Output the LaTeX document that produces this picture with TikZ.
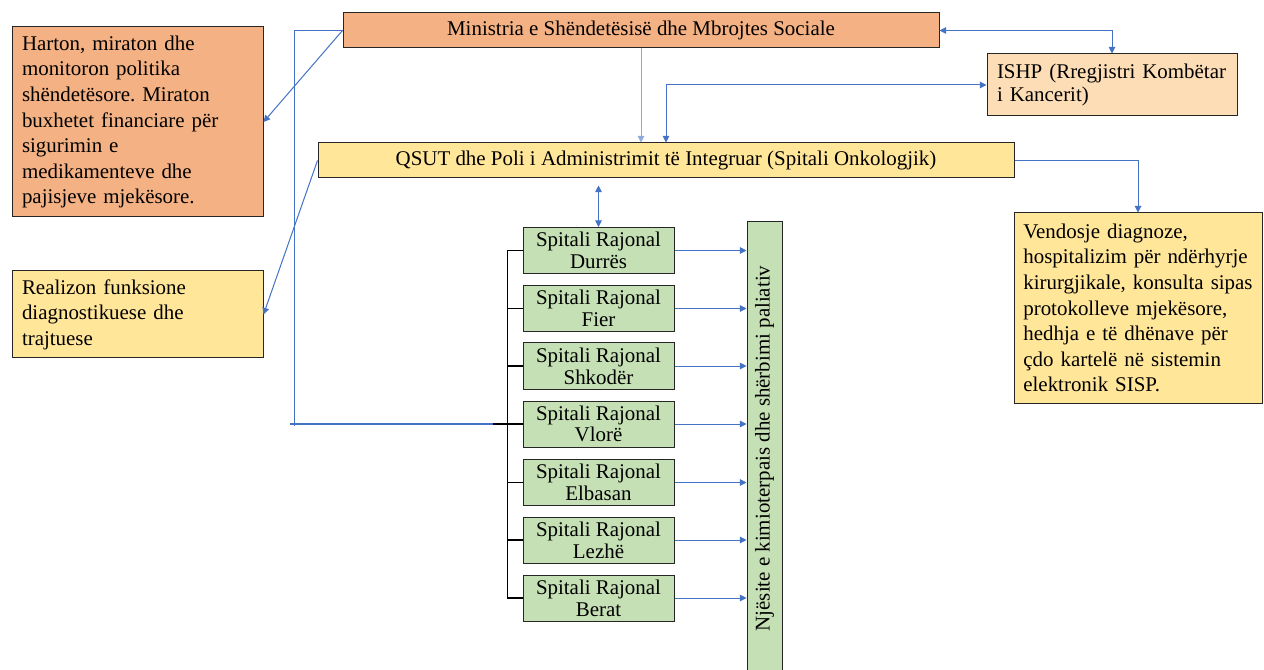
\documentclass[tikz,border=0pt]{standalone}
\usepackage{fontspec}
\setmainfont{Liberation Serif}
\frenchspacing
\usetikzlibrary{arrows.meta}
\definecolor{salmon}{HTML}{F4B183}
\definecolor{peach}{HTML}{FCDDB6}
\definecolor{yell}{HTML}{FFE699}
\definecolor{grn}{HTML}{C5E0B4}
\definecolor{lineblue}{HTML}{4472C4}
\definecolor{lightblue}{HTML}{8FAADC}
\tikzset{
  box/.style={draw=black!85, line width=0.75pt, inner sep=0pt, font=\fontsize{15.7}{19.2}\selectfont},
  lbox/.style={box, align=left, inner xsep=7.5pt},
  hbox/.style={box, fill=grn, align=center, minimum width=113.25pt, minimum height=34.5pt, font=\fontsize{15.7}{16.3}\selectfont},
  tip/.tip={Triangle[length=5pt,width=5pt]},
  conn/.style={draw=lineblue, line width=0.75pt, -tip},
  conn2/.style={draw=lineblue, line width=0.75pt, tip-tip},
  plain/.style={draw=lineblue, line width=0.75pt},
  thickline/.style={draw=lineblue, line width=1.6pt},
  bk/.style={draw=black, line width=1pt},
}
\begin{document}
\begin{tikzpicture}[x=0.75pt,y=-0.75pt]
\useasboundingbox (0,0) rectangle (1264,670);
\clip (0,0) rectangle (1264,670);

\node[box, fill=salmon, minimum width=447pt, minimum height=26.25pt] (min) at (641,30.5)
  {Ministria e Shëndetësisë dhe Mbrojtes Sociale};
\node[lbox, fill=salmon, minimum height=142.5pt, text width=173.25pt] (hart) at (137.5,122)
  {Harton, miraton dhe\\ monitoron politika\\ shëndetësore. Miraton\\ buxhetet financiare për\\ sigurimin e\\ medikamenteve dhe\\ pajisjeve mjekësore.};
\node[lbox, fill=peach, minimum height=46.5pt, text width=172.5pt, font=\fontsize{15.7}{17.5}\selectfont] (ishp) at (1112,85)
  {ISHP (Rregjistri Kombëtar\\ i Kancerit)};
\node[box, fill=yell, minimum width=522pt, minimum height=26.25pt] (qsut) at (666,160.5)
  {QSUT dhe Poli i Administrimit të Integruar (Spitali Onkologjik)};
\node[lbox, fill=yell, minimum height=65.25pt, text width=173.25pt] (real) at (137.5,314.5)
  {Realizon funksione\\ diagnostikuese dhe\\ trajtuese};
\node[lbox, fill=yell, minimum height=142.5pt, text width=172pt, inner xsep=7pt] (vend) at (1138,308)
  {Vendosje diagnoze,\\ hospitalizim për ndërhyrje\\ kirurgjikale, konsulta sipas\\ protokolleve mjekësore,\\ hedhja e të dhënave për\\ çdo kartelë në sistemin\\ elektronik SISP.};

\node[hbox] (dur) at (598.5,250.5) {Spitali Rajonal\\ Durrës};
\node[hbox] (fie) at (598.5,308.5) {Spitali Rajonal\\ Fier};
\node[hbox] (shk) at (598.5,366) {Spitali Rajonal\\ Shkodër};
\node[hbox] (vlo) at (598.5,424) {Spitali Rajonal\\ Vlorë};
\node[hbox] (elb) at (598.5,482.5) {Spitali Rajonal\\ Elbasan};
\node[hbox] (lez) at (598.5,540) {Spitali Rajonal\\ Lezhë};
\node[hbox] (ber) at (598.5,598) {Spitali Rajonal\\ Berat};

\node[box, fill=grn, minimum width=26.25pt, minimum height=341pt] (bar) at (764.5,448.5)
  {\rotatebox{90}{Njësite e kimioterpais dhe shërbimi paliativ}};

% connectors
\draw[conn2] (min.east) -| (ishp.north);
\draw[conn, draw=lightblue] (min.south) -- (min.south |- qsut.north);
\draw[conn2] (ishp.west) -| (qsut.north);
\draw[conn] (qsut.east) -| (vend.north);
\draw[conn] (min.west) -- (hart.east);
\draw[conn] (qsut.west) -- (real.east);
\draw[conn2, shorten <=5.25pt] (dur.north |- qsut.south) -- (dur.north);

\coordinate (lb) at (294,426);
\draw[plain] (min.west) -| (lb);
\coordinate (tl) at (290,424);
\coordinate (tr) at (505,424);
\draw[thickline] (tl) -- (tr);

\draw[bk] (dur.west) -- ++(-15,0) |- (ber.west);
\foreach \n in {fie,shk,elb,lez} \draw[bk] (\n.west) -- ++(-15,0);
\draw[bk] (vlo.west) -- ++(-30,0);

\foreach \n in {dur,fie,shk,vlo,elb,lez,ber} \draw[conn] (\n.east) -- (\n.east -| bar.west);
\end{tikzpicture}
\end{document}
